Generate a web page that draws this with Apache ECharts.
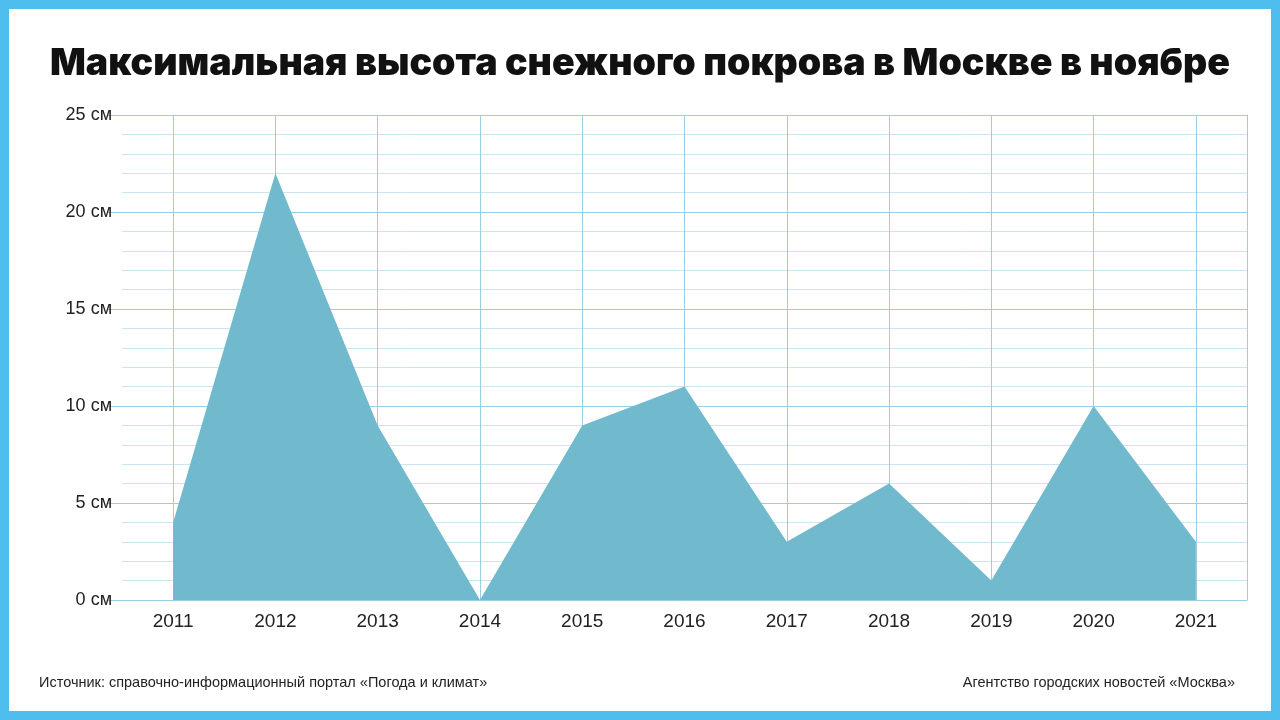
<!DOCTYPE html>
<html><head><meta charset="utf-8">
<script src="https://cdn.jsdelivr.net/npm/echarts@6/dist/echarts.min.js"></script>
<style>html,body{margin:0;padding:0;}#c{width:1280px;height:720px;box-sizing:border-box;border:9px solid #4DBEEE;background:#fff;}</style>
</head><body><div id="c"></div>
<script>
const years = ['2011','2012','2013','2014','2015','2016','2017','2018','2019','2020','2021'];
const snow = [4,22,9,0,9,11,3,6,1,10,3];
const yTicks = [0,5,10,15,20,25];
const chart = echarts.init(document.getElementById('c'));
const grid = '#9ACFE3';
chart.setOption({
  animation:false,
  title:[{text:'Максимальная высота снежного покрова в Москве в ноябре',left:'center',top:31,textStyle:{fontFamily:'Inter',fontWeight:900,fontSize:37.5,color:'#111'}}],
  graphic:[
    {type:'text',left:30,top:666,style:{text:'Источник: справочно-информационный портал «Погода и климат»',font:'14.5px "Liberation Sans"',fill:'#222'}},
    {type:'text',right:36,top:666,style:{text:'Агентство городских новостей «Москва»',font:'14.5px "Liberation Sans"',fill:'#222'}}
  ],
  grid:{left:113,right:24,top:106,bottom:111},
  xAxis:{type:'category',data:years,boundaryGap:true,axisLine:{show:true,lineStyle:{color:grid}},axisTick:{show:false},
    splitLine:{show:false},axisLabel:{fontFamily:'Liberation Sans',fontSize:19,color:'#222',margin:12}},
  yAxis:[{type:'value',min:0,max:25,interval:5,
    axisLabel:{formatter:v=>yTicks.includes(v)?v+' см':'',fontFamily:'Liberation Sans',fontSize:18,color:'#222',margin:10},
    axisLine:{show:false},axisTick:{show:true,length:14,lineStyle:{color:grid}},
    splitLine:{lineStyle:{color:grid}},
    minorTick:{show:false,splitNumber:5},minorSplitLine:{show:true,lineStyle:{color:'#C9E6F2'}}},
   {type:'value',min:0,max:25,interval:5,position:'right',axisLabel:{show:false},axisTick:{show:false},
    splitLine:{show:false},axisLine:{show:true,lineStyle:{color:grid}}}],
  series:[
   {type:'line',data:[],zlevel:0,
    markLine:{silent:true,symbol:'none',label:{show:false},lineStyle:{color:grid,type:'solid',width:1},
      data:years.map(y=>({xAxis:y}))}},
   {type:'line',data:snow,symbol:'none',zlevel:1,lineStyle:{width:0},
    areaStyle:{color:'#71B9CD',opacity:1}}]
});
</script></body></html>
